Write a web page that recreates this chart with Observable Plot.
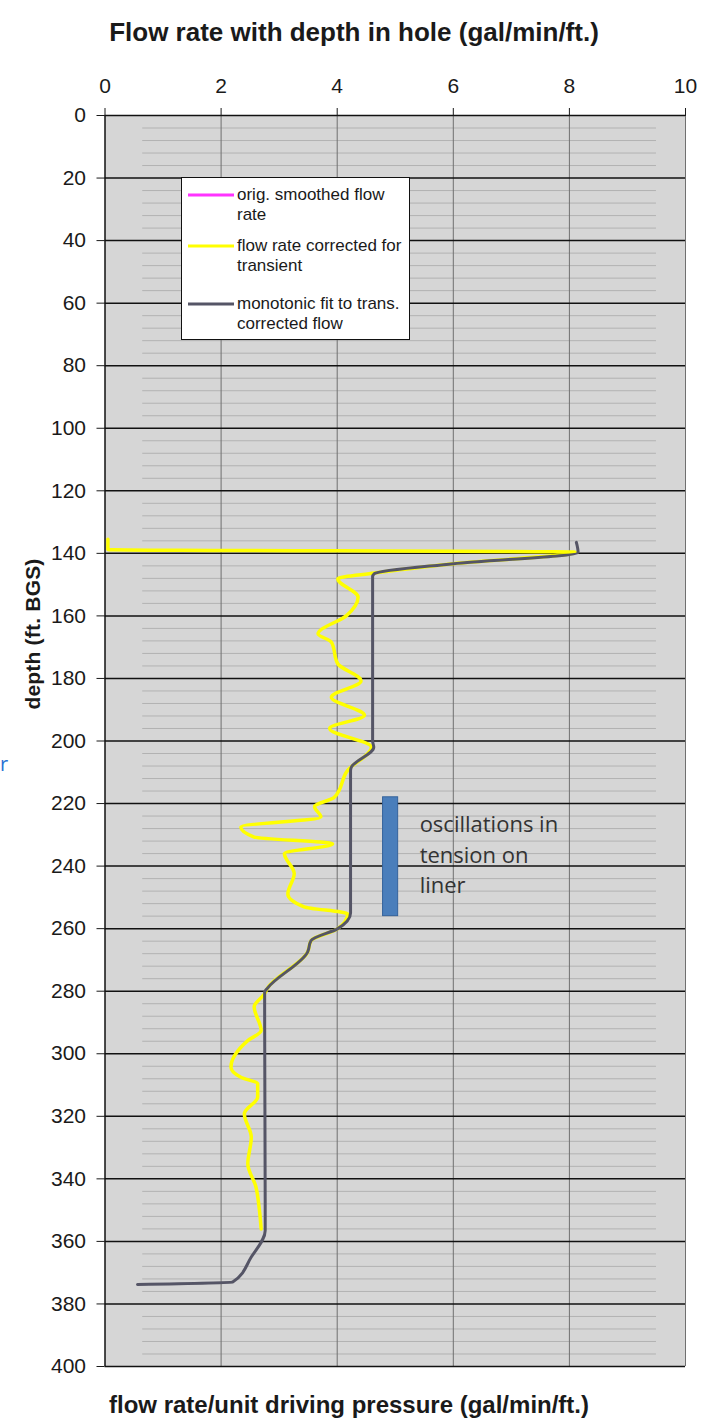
<!DOCTYPE html>
<html>
<head>
<meta charset="utf-8">
<script src="https://cdn.jsdelivr.net/npm/d3@7"></script>
<script src="https://cdn.jsdelivr.net/npm/@observablehq/plot@0.6"></script>
<style>
  body { margin: 0; background: #fff; }
  #wrap { position: relative; width: 702px; height: 1427px; overflow: hidden; font-family: "Liberation Sans", Arial, sans-serif; color: #1a1a1a; }
  #title { position: absolute; left: 0; top: 19px; width: 708px; text-align: center; font-weight: bold; font-size: 26px; line-height: 26px; }
  #xlabel { position: absolute; left: 0; top: 1393px; width: 698px; text-align: center; font-weight: bold; font-size: 24px; line-height: 24px; }
  #ylabel { position: absolute; left: -77px; top: 623px; width: 220px; height: 22px; line-height: 22px; text-align: center; font-weight: bold; font-size: 21px; letter-spacing: 0.2px; transform: rotate(-90deg); }
  #chart { position: absolute; left: 0; top: 55px; }
  #legend { position: absolute; left: 181px; top: 177px; width: 229px; height: 163px; box-sizing: border-box; border: 1px solid #111; background: #fff; }
  .row { position: absolute; left: 0; width: 229px; }
  .row svg { position: absolute; left: 6px; top: 8px; }
  .row div { position: absolute; left: 55px; top: 0; font-size: 17px; line-height: 20px; white-space: nowrap; color: #1a1a1a; }
  #stray { position: absolute; left: 0px; top: 753px; font-family: "Open Sans", sans-serif; font-size: 20px; line-height: 22px; color: #2a72d4; }
</style>
</head>
<body>
<div id="wrap">
  <div id="title">Flow rate with depth in hole (gal/min/ft.)</div>
  <div id="chart"></div>
  <div id="ylabel">depth (ft. BGS)</div>
  <div id="legend"></div>
  <div id="stray">r</div>
  <div id="xlabel">flow rate/unit driving pressure (gal/min/ft.)</div>
</div>
<script>
// ---- tick labels ----
const xTicks = [0, 2, 4, 6, 8, 10];
const yTicks = [0, 20, 40, 60, 80, 100, 120, 140, 160, 180, 200, 220, 240, 260, 280, 300, 320, 340, 360, 380, 400];

// ---- series: flow rate corrected for transient (yellow) ----
const transFlow  = [0.05, 0.05, 8.10, 6.00, 4.64, 4.01, 4.36, 4.16, 3.67, 3.90, 4.01, 4.41, 3.90, 4.47, 3.87, 4.59, 4.18, 3.95, 3.61, 3.72, 2.34, 2.57, 3.92, 3.09, 3.26, 3.15, 3.43, 4.18, 4.01, 3.55, 3.49, 2.80, 2.75, 2.57, 2.69, 2.46, 2.17, 2.34, 2.63, 2.63, 2.40, 2.52, 2.46, 2.60, 2.66, 2.69];
const transDepth = [135.5, 138.8, 139.6, 143.3, 146.3, 148.1, 154.0, 159.9, 165.7, 168.4, 175.3, 180.8, 186.0, 191.8, 196.0, 202.0, 209.4, 218.0, 221.0, 224.3, 227.5, 230.7, 232.9, 236.0, 242.4, 248.9, 253.0, 255.3, 260.0, 263.8, 267.5, 279.0, 280.8, 285.0, 292.6, 295.8, 304.3, 307.5, 309.6, 313.8, 319.2, 326.7, 335.2, 342.6, 350.0, 356.0];

// ---- series: monotonic fit to trans. corrected flow (dark gray) ----
const fitFlow  = [8.12, 8.15, 6.00, 4.64, 4.61, 4.61, 4.63, 4.24, 4.23, 4.23, 4.01, 3.55, 3.49, 2.80, 2.75, 2.76, 2.52, 2.20, 0.56];
const fitDepth = [136.5, 139.7, 143.3, 146.5, 147.5, 200.0, 202.0, 208.5, 209.5, 255.0, 260.0, 263.8, 267.5, 279.0, 280.3, 356.5, 365.0, 373.0, 373.8];

// ---- annotation: blue bar + note ----
const barFlow  = [4.79, 5.05];
const barDepth = [218, 256];
const noteLines = ["oscillations in", "tension on", "liner"];
const noteFlow  = 5.42;
const noteDepth = [227.0, 236.6, 246.2];

// ---- legend ----
const legendLabels = [["orig. smoothed flow", "rate"], ["flow rate corrected for", "transient"], ["monotonic fit to trans.", "corrected flow"]];
const legendColors = ["#ff33ff", "#ffff00", "#555566"];

const trans = transFlow.map((f, i) => ({flow: f, depth: transDepth[i]}));
const fit = fitFlow.map((f, i) => ({flow: f, depth: fitDepth[i]}));
const bar = [{x1: barFlow[0], x2: barFlow[1], y1: barDepth[0], y2: barDepth[1]}];
const notes = noteLines.map((t, i) => ({text: t, flow: noteFlow, depth: noteDepth[i]}));
const minor = d3.range(4, 400, 4).filter(d => d % 20 !== 0);
const xGrid = xTicks.filter(d => d > 0);

const chart = Plot.plot({
  width: 702,
  height: 1321,
  marginTop: 60,
  marginLeft: 104.5,
  marginRight: 17,
  marginBottom: 10,
  x: {domain: [0, 10]},
  y: {domain: [0, 400], reverse: true},
  style: {fontFamily: "Liberation Sans, Arial, sans-serif", background: "transparent", overflow: "visible", color: "#1a1a1a"},
  marks: [
    Plot.frame({fill: "#d6d6d6", stroke: null}),
    Plot.ruleY(minor, {x1: 0.65, x2: 9.5, stroke: "#b2b2b2", strokeWidth: 1}),
    Plot.ruleX(xGrid, {stroke: "#707070", strokeWidth: 1}),
    Plot.ruleY(yTicks, {stroke: "#111", strokeWidth: 1.5}),
    Plot.ruleX([0], {stroke: "#111", strokeWidth: 1.5}),
    Plot.rect(bar, {x1: "x1", x2: "x2", y1: "y1", y2: "y2", fill: "#4a7ebb", stroke: "#35639c", strokeWidth: 1}),
    Plot.text(notes, {x: "flow", y: "depth", text: "text", textAnchor: "start", lineAnchor: "middle", fontFamily: "Open Sans, sans-serif", fontSize: 22, fill: "#333"}),
    Plot.line(trans, {x: "flow", y: "depth", stroke: "#ffff00", strokeWidth: 3.5, curve: "monotone-y"}),
    Plot.line(fit, {x: "flow", y: "depth", stroke: "#555566", strokeWidth: 3, curve: "monotone-y"}),
    Plot.axisX({anchor: "top", ticks: xTicks, tickSize: 8, tickPadding: 15, fontSize: 21, label: null, tickFormat: d => String(d)}),
    Plot.axisY({anchor: "left", ticks: yTicks, tickSize: 8, tickPadding: 11, fontSize: 21, label: null, tickFormat: d => String(d)})
  ]
});
document.getElementById("chart").appendChild(chart);

// legend rows
const rowTops = [7, 58, 116];
const legend = document.getElementById("legend");
legendLabels.forEach((lines, i) => {
  const row = document.createElement("div");
  row.className = "row";
  row.style.top = rowTops[i] + "px";
  row.innerHTML = `<svg width="46" height="4"><line x1="0" x2="46" y1="2" y2="2" stroke="${legendColors[i]}" stroke-width="3"/></svg><div>${lines.join("<br>")}</div>`;
  legend.appendChild(row);
});
</script>
</body>
</html>
